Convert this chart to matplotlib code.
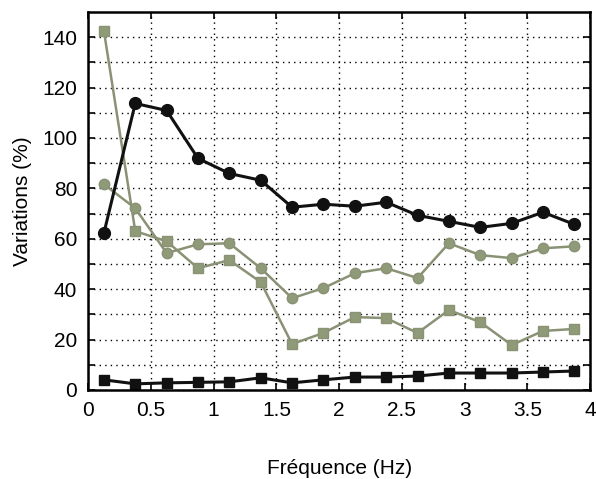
import matplotlib.pyplot as plt
import numpy as np

plt.rcParams['font.family'] = ['Liberation Sans', 'DejaVu Sans']

# data
freq = [0.125, 0.375, 0.625, 0.875, 1.125, 1.375, 1.625, 1.875,
        2.125, 2.375, 2.625, 2.875, 3.125, 3.375, 3.625, 3.875]
black_circles = [62.2, 113.7, 110.9, 91.9, 85.9, 83.2, 72.5, 73.7,
                 72.9, 74.5, 69.3, 66.9, 64.5, 66.1, 70.5, 65.7]
gray_circles = [81.6, 72.1, 54.3, 57.8, 58.2, 48.3, 36.4, 40.4,
                46.3, 48.3, 44.4, 58.2, 53.5, 52.3, 56.2, 57.0]
gray_squares = [142.5, 63.0, 59.0, 48.3, 51.5, 42.8, 18.2, 22.6,
                28.9, 28.5, 22.6, 31.7, 26.9, 17.8, 23.4, 24.2]
black_squares = [4.0, 2.4, 2.8, 3.0, 3.2, 4.8, 2.8, 4.0,
                 5.1, 5.1, 5.5, 6.7, 6.7, 6.7, 7.1, 7.5]

xticks = [0, 0.5, 1, 1.5, 2, 2.5, 3, 3.5, 4]
xticklabels = ['0', '0.5', '1', '1.5', '2', '2.5', '3', '3.5', '4']
yticks = [0, 20, 40, 60, 80, 100, 120, 140]

fig = plt.figure(figsize=(5.96, 4.79), dpi=100)
ax = fig.add_axes([0.148, 0.186, 0.842, 0.789])

gray = '#8a9275'
ax.plot(freq, gray_squares, 's-', color=gray, mfc='#8f9a78', mec='#8a9275', ms=7, lw=1.8)
ax.plot(freq, gray_circles, 'o-', color=gray, mfc='#8f9a78', mec='#8a9275', ms=7.5, lw=1.8)
ax.plot(freq, black_circles, 'o-', color='#111111', ms=8.5, lw=2.2)
ax.plot(freq, black_squares, 's-', color='#111111', ms=7, lw=2.2)

ax.set_xlim(0, 4)
ax.set_ylim(0, 150)
ax.set_xticks(xticks)
ax.set_xticklabels(xticklabels)
ax.set_yticks(yticks)
ax.set_yticks(np.arange(10, 150, 20), minor=True)

ax.grid(True, which='major', axis='x', color='black', linestyle=(0, (1, 3)), lw=1.0)
ax.grid(True, which='both', axis='y', color='black', linestyle=(0, (1, 3)), lw=1.0)

ax.tick_params(which='both', direction='in', top=True, right=True, length=5, width=1.2,
               labelsize=15, pad=8)
for s in ax.spines.values():
    s.set_linewidth(1.8)

ax.set_xlabel('Fréquence (Hz)', fontsize=15, labelpad=28)
ax.set_ylabel('Variations (%)', fontsize=15, labelpad=7)

fig.savefig('out.png', dpi=100)
